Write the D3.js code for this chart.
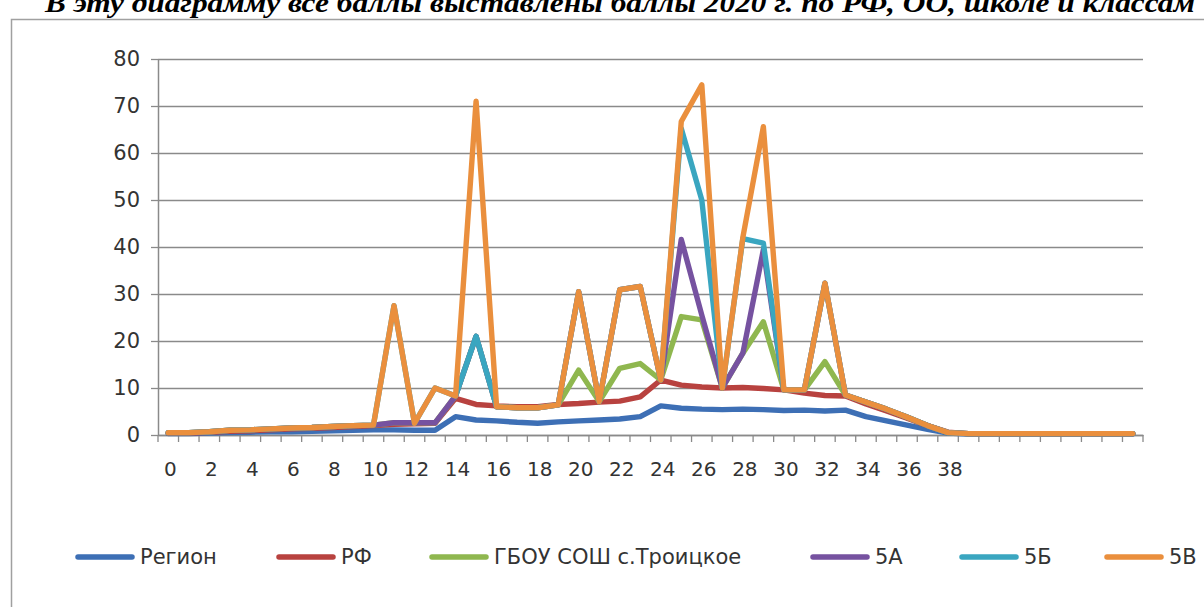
<!DOCTYPE html>
<html lang="ru">
<head>
    <meta charset="utf-8" />
    <title>Баллы 2020</title>
    <script src="https://d3js.org/d3.v7.min.js"></script>
    <style>
        body {
            margin: 0;
            background-color: white;
            overflow: hidden;
        }

        text.title {
            font-family: 'Liberation Serif', 'Times New Roman', serif;
            font-weight: bold;
            font-style: italic;
            font-size: 28px;
            fill: black;
        }

        .axis text, .legend text {
            font-family: 'DejaVu Sans', Verdana, sans-serif;
            fill: #333;
        }

        .yaxis text { font-size: 21px; }
        .xaxis text { font-size: 20px; }
        .legend text { font-size: 21px; }

        .grid line {
            stroke: #8a8a8a;
            stroke-width: 1.3px;
        }

        path.series {
            fill: none;
            stroke-width: 5.4px;
            stroke-linejoin: round;
            stroke-linecap: round;
        }
    </style>
</head>
<body>
    <svg id="vis" width="1204" height="607"></svg>
    <script>
        // categories 0..47, only 0..38 carry a name
        var categories = ["0", "1", "2", "3", "4", "5", "6", "7", "8", "9", "10", "11", "12", "13", "14", "15", "16", "17", "18", "19",
            "20", "21", "22", "23", "24", "25", "26", "27", "28", "29", "30", "31", "32", "33", "34", "35", "36", "37", "38",
            "", "", "", "", "", "", "", "", ""];

        var seriesNames = ["Регион", "РФ", "ГБОУ СОШ с.Троицкое", "5А", "5Б", "5В"];
        var seriesColors = ["#3d6fb5", "#b8423f", "#8fb74f", "#7652a0", "#3aa6c0", "#ea8f3d"];

        var region = [0.3, 0.3, 0.4, 0.5, 0.6, 0.7, 0.7, 0.8, 0.9, 1.0, 1.1, 1.1, 1.0, 1.0, 3.9, 3.2, 3.0, 2.7, 2.5, 2.8,
            3.0, 3.2, 3.4, 3.9, 6.2, 5.7, 5.5, 5.4, 5.5, 5.4, 5.2, 5.3, 5.1, 5.3, 3.9, 3.0, 2.1, 1.2, 0.4,
            0.2, 0.2, 0.2, 0.2, 0.2, 0.2, 0.2, 0.2, 0.2];
        var rf = [0.4, 0.4, 0.6, 0.8, 0.9, 1.1, 1.3, 1.4, 1.6, 1.8, 2.0, 2.3, 2.4, 2.5, 7.8, 6.5, 6.2, 6.0, 6.0, 6.5,
            6.7, 7.0, 7.2, 8.1, 11.7, 10.6, 10.2, 10.0, 10.1, 9.9, 9.6, 8.9, 8.4, 8.3, 6.6, 5.1, 3.6, 2.0, 0.6,
            0.3, 0.3, 0.3, 0.3, 0.3, 0.3, 0.3, 0.3, 0.3];
        var school = [0.5, 0.5, 0.7, 1.0, 1.1, 1.3, 1.5, 1.6, 1.8, 2.0, 2.1, 2.6, 2.6, 2.6, 8.3, 21.0, 6.0, 5.8, 5.8, 6.4,
            13.8, 7.1, 14.2, 15.2, 11.7, 25.2, 24.5, 10.0, 17.4, 24.1, 9.6, 9.6, 15.6, 8.5, 7.0, 5.5, 3.8, 2.0, 0.5,
            0.3, 0.3, 0.3, 0.3, 0.3, 0.3, 0.3, 0.3, 0.3];
        var class5a = [0.5, 0.5, 0.7, 1.0, 1.1, 1.3, 1.5, 1.6, 1.8, 2.0, 2.1, 2.6, 2.6, 2.6, 8.3, 21.0, 6.0, 5.8, 5.8, 6.4,
            30.5, 7.1, 30.9, 31.6, 11.7, 41.6, 25.5, 10.0, 17.4, 39.4, 9.6, 9.6, 32.3, 8.5, 7.0, 5.5, 3.8, 2.0, 0.5,
            0.3, 0.3, 0.3, 0.3, 0.3, 0.3, 0.3, 0.3, 0.3];
        var class5b = [0.5, 0.5, 0.7, 1.0, 1.1, 1.3, 1.5, 1.6, 1.8, 2.0, 2.1, 27.5, 2.5, 10.0, 8.3, 21.0, 6.0, 5.8, 5.8, 6.4,
            30.5, 7.1, 30.9, 31.6, 11.7, 65.2, 50.0, 10.0, 41.8, 40.8, 9.6, 9.6, 32.3, 8.5, 7.0, 5.5, 3.8, 2.0, 0.5,
            0.3, 0.3, 0.3, 0.3, 0.3, 0.3, 0.3, 0.3, 0.3];
        var class5v = [0.5, 0.5, 0.7, 1.0, 1.1, 1.3, 1.5, 1.6, 1.8, 2.0, 2.1, 27.5, 2.5, 10.0, 8.3, 71.0, 6.0, 5.8, 5.8, 6.4,
            30.5, 7.1, 30.9, 31.6, 11.7, 66.7, 74.5, 10.0, 42.0, 65.6, 9.6, 9.6, 32.3, 8.5, 7.0, 5.5, 3.8, 2.0, 0.5,
            0.3, 0.3, 0.3, 0.3, 0.3, 0.3, 0.3, 0.3, 0.3];

        var yTicks = [0, 10, 20, 30, 40, 50, 60, 70, 80];

        var series = [region, rf, school, class5a, class5b, class5v];

        var svg = d3.select("#vis");

        // title line, partly cut off at the top of the page (as in the source)
        svg.append("text").attr("class", "title")
            .attr("x", 45).attr("y", 12)
            .attr("textLength", 1150).attr("lengthAdjust", "spacingAndGlyphs")
            .text("В эту диаграмму все баллы выставлены баллы 2020 г. по РФ, ОО, школе и классам");

        // chart frame
        svg.append("rect")
            .attr("x", 11.5).attr("y", 19.5).attr("width", 1220).attr("height", 620)
            .attr("fill", "white").attr("stroke", "#a0a0a0").attr("stroke-width", 1.5);

        var plot = { left: 158, right: 1143, top: 59, bottom: 435 };

        var x = d3.scaleBand()
            .domain(d3.range(categories.length))
            .range([plot.left, plot.right])
            .padding(0);

        var y = d3.scaleLinear()
            .domain([0, 80])
            .range([plot.bottom, plot.top]);

        // horizontal gridlines
        svg.append("g").attr("class", "grid")
            .attr("transform", "translate(" + plot.left + ",0)")
            .call(d3.axisRight(y).tickValues(yTicks).tickSize(plot.right - plot.left).tickFormat(""))
            .call(function (g) { g.select(".domain").remove(); });

        // y axis
        var yAxis = svg.append("g").attr("class", "axis yaxis")
            .attr("transform", "translate(" + plot.left + ",0)")
            .call(d3.axisLeft(y).tickValues(yTicks).tickSize(7).tickSizeOuter(0).tickPadding(11));
        yAxis.selectAll("line").attr("stroke", "#8a8a8a").attr("stroke-width", 1.3);
        yAxis.select(".domain").attr("stroke", "#8a8a8a").attr("stroke-width", 1.5);
        yAxis.selectAll("text").attr("font-size", null);

        // x axis labels, every second category
        var xAxis = svg.append("g").attr("class", "axis xaxis")
            .attr("transform", "translate(0," + plot.bottom + ")")
            .call(d3.axisBottom(x).tickSize(0).tickPadding(41)
                .tickFormat(function (i) { return i % 2 == 0 ? categories[i] : ""; }));
        xAxis.select(".domain").attr("stroke", "#8a8a8a").attr("stroke-width", 1.5);
        xAxis.selectAll("text").attr("font-size", null).attr("dy", 0).attr("dx", 2);

        // tick marks between categories
        xAxis.selectAll("line.between").data(d3.range(categories.length + 1))
            .enter().append("line").attr("class", "between")
            .attr("x1", function (i) { return plot.left + i * x.step(); })
            .attr("x2", function (i) { return plot.left + i * x.step(); })
            .attr("y1", 0).attr("y2", 7)
            .attr("stroke", "#8a8a8a").attr("stroke-width", 1.3);

        var line = d3.line()
            .x(function (d, i) { return x(i) + x.bandwidth() / 2; })
            .y(function (d) { return y(d); });

        svg.append("g").attr("class", "lines")
            .selectAll("path").data(series)
            .enter().append("path").attr("class", "series")
            .attr("stroke", function (d, i) { return seriesColors[i]; })
            .attr("d", line);

        // legend
        var legendX = [75, 276, 429, 810, 959, 1104];
        var legend = svg.append("g").attr("class", "legend")
            .attr("transform", "translate(0, 557)");

        var items = legend.selectAll("g").data(seriesNames)
            .enter().append("g")
            .attr("transform", function (d, i) { return "translate(" + legendX[i] + ",0)"; });

        items.append("line")
            .attr("x1", 3).attr("x2", 57).attr("y1", 0).attr("y2", 0)
            .attr("stroke", function (d, i) { return seriesColors[i]; })
            .attr("stroke-width", 5.5).attr("stroke-linecap", "round");

        items.append("text")
            .attr("x", 65).attr("y", 0).attr("dy", "0.35em")
            .text(function (d) { return d; });
    </script>
</body>
</html>
